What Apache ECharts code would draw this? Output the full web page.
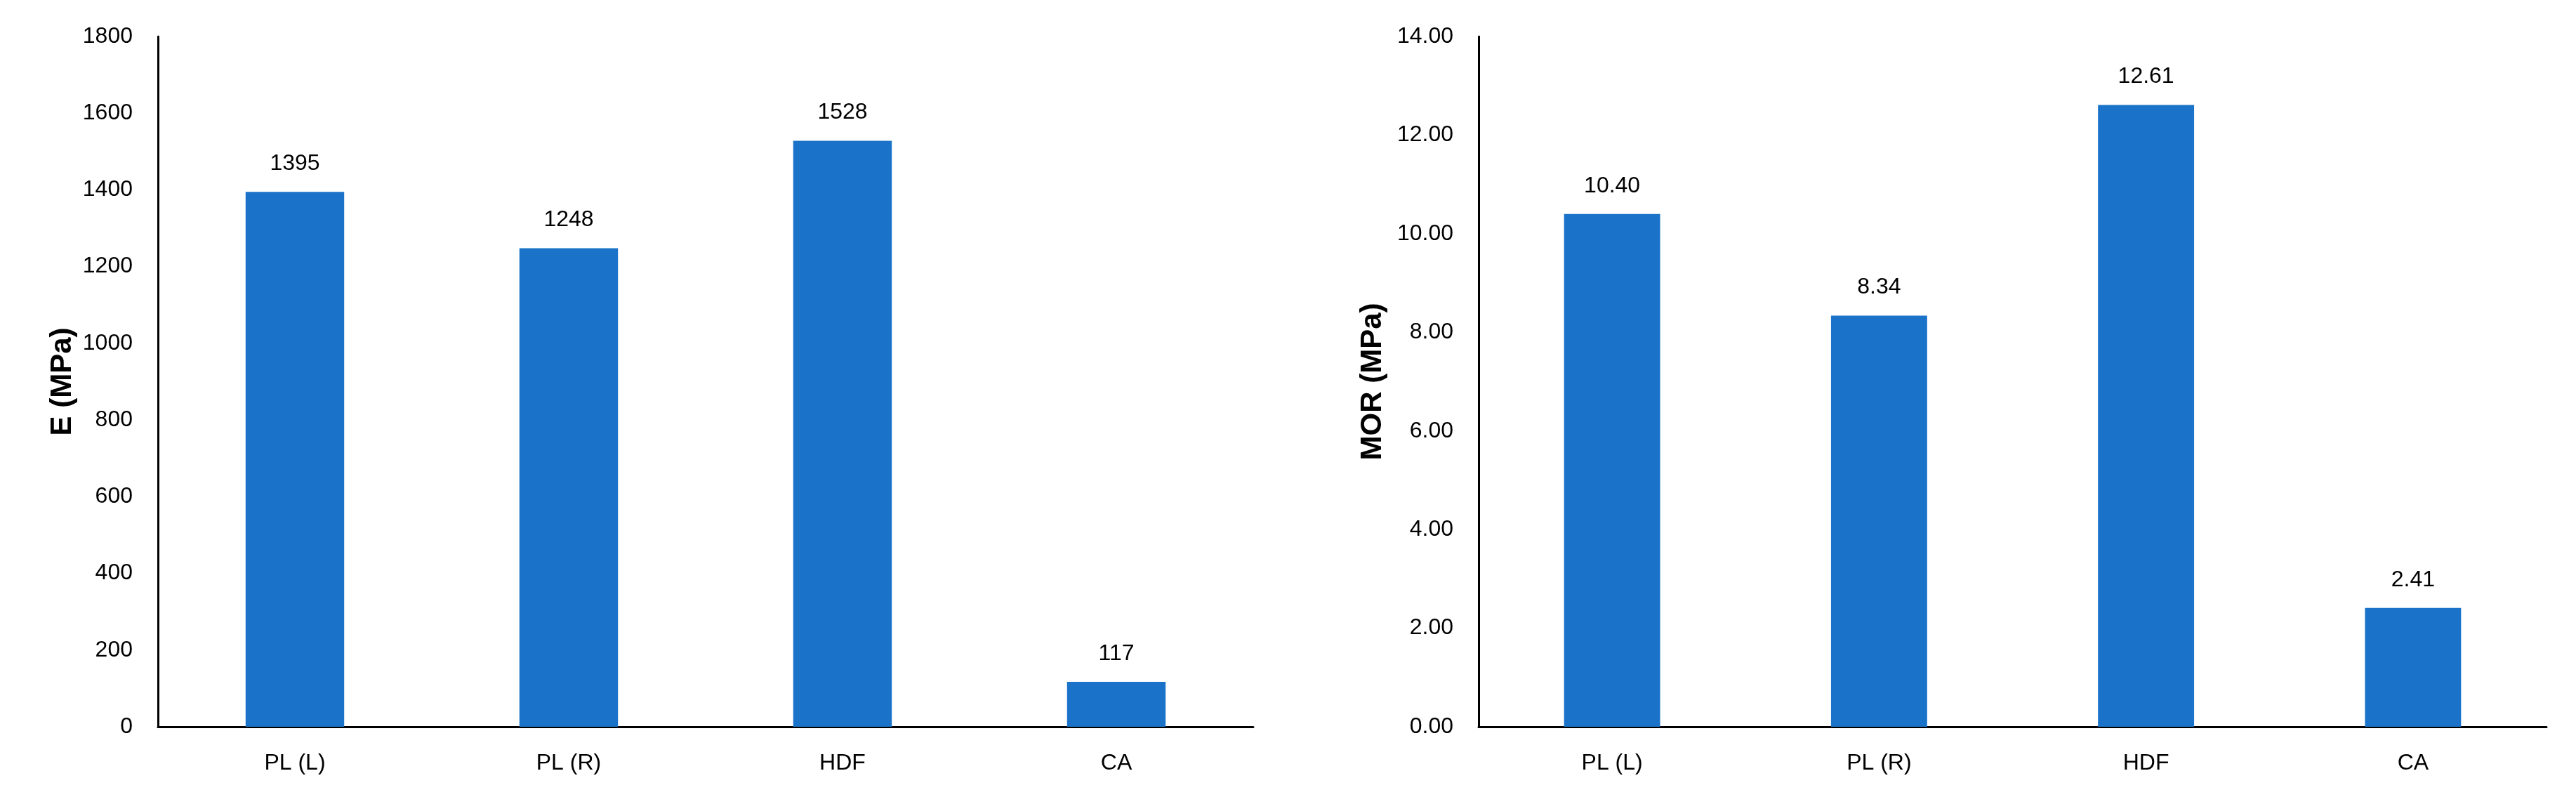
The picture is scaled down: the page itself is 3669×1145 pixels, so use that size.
<!DOCTYPE html>
<html>
<head>
    <meta charset="utf-8" />
    <script src="https://cdn.jsdelivr.net/npm/echarts@6/dist/echarts.min.js"></script>
</head>
<body style="margin:0;background:#fff">
    <div id="main" style="width: 3669px;height:1145px;"></div>
    <script type="text/javascript">
        var categories = ['PL (L)', 'PL (R)', 'HDF', 'CA'];
        var eValues = [1395, 1248, 1528, 117];
        var morValues = [10.40, 8.34, 12.61, 2.41];

        var font = '"Liberation Sans Narrow", "Liberation Sans", sans-serif';
        var barColor = '#1a73c9';

        function xAxis(idx) {
            return {
                type: 'category', gridIndex: idx, data: categories,
                axisLine: { lineStyle: { color: '#000', width: 3 } },
                axisTick: { show: false },
                axisLabel: { color: '#000', fontSize: 32, fontFamily: font, margin: 36 }
            };
        }
        function yAxis(idx, name, max, interval, digits) {
            return {
                type: 'value', gridIndex: idx, min: 0, max: max, interval: interval,
                name: name, nameLocation: 'middle', nameGap: digits ? 130 : 115,
                nameTextStyle: { fontSize: 42, fontWeight: 'bold', color: '#000', fontFamily: 'Liberation Sans, sans-serif' },
                axisLine: { show: true, lineStyle: { color: '#000', width: 3 } },
                axisTick: { show: false },
                splitLine: { show: false },
                axisLabel: {
                    color: '#000', fontSize: 32, fontFamily: font, margin: 36,
                    formatter: function (v) { return v.toFixed(digits); }
                }
            };
        }
        function series(idx, data, digits) {
            return {
                type: 'bar', xAxisIndex: idx, yAxisIndex: idx, data: data,
                barWidth: '36%',
                itemStyle: { color: barColor },
                label: {
                    show: true, position: 'top', distance: 24, color: '#000',
                    fontSize: 32, fontFamily: font,
                    formatter: function (p) { return p.value.toFixed(digits); }
                }
            };
        }

        var myChart = echarts.init(document.getElementById('main'));
        myChart.setOption({
            backgroundColor: '#fff',
            grid: [
                { left: 225, width: 1560, top: 52, height: 983 },
                { left: 2106, width: 1521, top: 52, height: 983 }
            ],
            xAxis: [xAxis(0), xAxis(1)],
            yAxis: [yAxis(0, 'E (MPa)', 1800, 200, 0), yAxis(1, 'MOR (MPa)', 14, 2, 2)],
            series: [series(0, eValues, 0), series(1, morValues, 2)]
        });
    </script>
</body>
</html>
